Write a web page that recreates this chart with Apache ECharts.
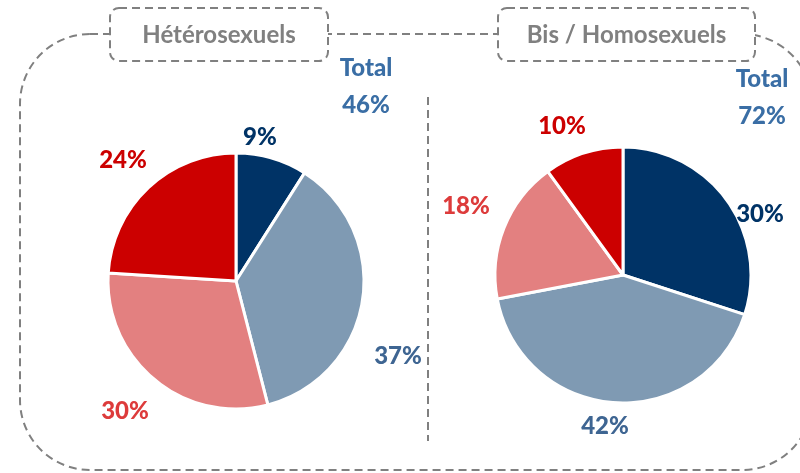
<!DOCTYPE html>
<html>
<head>
<meta charset="utf-8" />
<title>Hétéro / Homo</title>
<script src="https://cdn.jsdelivr.net/npm/echarts@6/dist/echarts.min.js"></script>
<style>
  html, body { margin: 0; padding: 0; background: #fff; }
  #main { width: 800px; height: 473px; }
</style>
</head>
<body>
<div id="main"></div>
<script>
// données
var groupes = ['Hétérosexuels', 'Bis / Homosexuels'];
var totaux = ['46%', '72%'];
var parts = ['a', 'b', 'c', 'd'];
var heteroValeurs = [9, 37, 30, 24];
var homoValeurs = [30, 42, 18, 10];

var couleurs = ['#003366', '#7f9ab3', '#e38080', '#cc0000'];
var couleursTexte = ['#003366', '#3e6592', '#dd3b3b', '#cc0000'];
var gris = '#808080';
var dash = [8, 5];

var myChart = echarts.init(document.getElementById('main'));

function serie(valeurs, centre) {
  return {
    type: 'pie',
    center: centre,
    radius: 128,
    startAngle: 90,
    clockwise: true,
    silent: true,
    label: { show: false },
    labelLine: { show: false },
    itemStyle: { borderColor: '#fff', borderWidth: 3 },
    data: valeurs.map(function (v, i) {
      return { name: parts[i], value: v, itemStyle: { color: couleurs[i] } };
    })
  };
}

// position des étiquettes (centre du texte)
var posHetero = [[260, 137], [398, 356], [125, 411], [123, 160]];
var posHomo = [[760, 214], [605, 426], [466, 206], [562, 126]];

function etiquettes(valeurs, pos) {
  return valeurs.map(function (v, i) {
    return {
      type: 'text', x: pos[i][0], y: pos[i][1], z: 10,
      style: {
        text: v + '%', fill: couleursTexte[i],
        font: '900 24px Lato', align: 'center', verticalAlign: 'middle'
      }
    };
  });
}

function titre(txt, x, y, w) {
  return [
    {
      type: 'rect', shape: { x: x, y: y, width: w, height: 53, r: 9 }, z: 5,
      style: { fill: '#fff', stroke: gris, lineWidth: 2, lineDash: dash }
    },
    {
      type: 'text', x: x + w / 2, y: y + 27, z: 6,
      style: { text: txt, fill: gris, font: 'bold 24px Lato', align: 'center', verticalAlign: 'middle' }
    }
  ];
}

function total(t, x, y) {
  return {
    type: 'text', x: x, y: y, z: 10,
    style: {
      text: 'Total\n' + t, fill: '#3a6ea5', font: '900 24px Lato',
      align: 'center', verticalAlign: 'middle', lineHeight: 37
    }
  };
}

var graphics = [
  {
    type: 'rect', shape: { x: 20, y: 34, width: 792, height: 436, r: 70 }, z: 1,
    style: { fill: 'none', stroke: gris, lineWidth: 2, lineDash: dash }
  },
  {
    type: 'line', shape: { x1: 428, y1: 97, x2: 428, y2: 441 }, z: 1,
    style: { stroke: gris, lineWidth: 2, lineDash: dash }
  },
  total(totaux[0], 366, 87),
  total(totaux[1], 762, 98)
]
  .concat(titre(groupes[0], 110, 8, 218))
  .concat(titre(groupes[1], 498, 8, 257))
  .concat(etiquettes(heteroValeurs, posHetero))
  .concat(etiquettes(homoValeurs, posHomo));

myChart.setOption({
  animation: false,
  graphic: graphics,
  series: [
    serie(heteroValeurs, [236, 281]),
    serie(homoValeurs, [623, 275])
  ]
});

window.onresize = function () {
  myChart.resize();
};
</script>
</body>
</html>
